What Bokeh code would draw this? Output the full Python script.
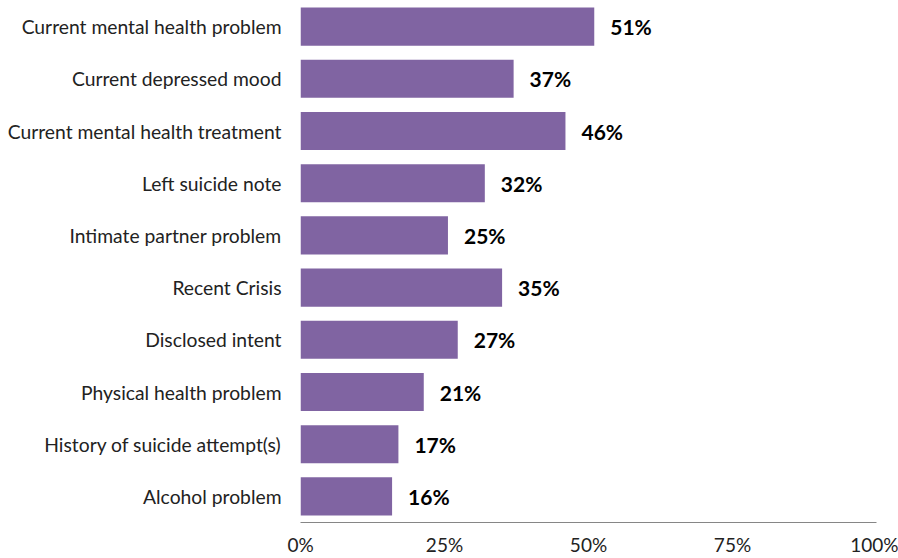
from bokeh.plotting import figure
from bokeh.models import Range1d, FixedTicker, ColumnDataSource, LabelSet
from bokeh.core.properties import value
from bokeh.embed import file_html
from bokeh.resources import INLINE

categories = ["Current mental health problem", "Current depressed mood",
              "Current mental health treatment", "Left suicide note",
              "Intimate partner problem", "Recent Crisis", "Disclosed intent",
              "Physical health problem", "History of suicide attempt(s)",
              "Alcohol problem"]
values = [51, 37, 46, 32, 25.6, 35, 27.3, 21.4, 17, 15.9]
value_labels = ["51%", "37%", "46%", "32%", "25%", "35%", "27%", "21%", "17%", "16%"]
x_ticks = [0, 25, 50, 75, 100]

FONT = "Lato"
pos = list(range(len(categories)))

src = ColumnDataSource(dict(y=pos, v=values, lab=value_labels))

p = figure(width=898, height=558, output_backend="svg", toolbar_location=None,
           x_range=Range1d(0, 100), y_range=Range1d(9.5, -0.5),
           min_border_left=300, min_border_right=22, min_border_top=0,
           min_border_bottom=36)
p.outline_line_color = None
p.grid.visible = False
p.background_fill_color = "white"

p.hbar(y="y", right="v", left=0, height=0.73, source=src,
       fill_color="#8064A2", line_color=None)

labels = LabelSet(x="v", y="y", text="lab", source=src, x_offset=16,
                  text_baseline="middle", text_font=value(FONT),
                  text_font_size=value("21px"), text_font_style="bold",
                  text_color=value("#000000"))
p.add_layout(labels)

p.xaxis.ticker = FixedTicker(ticks=x_ticks)
p.xaxis.major_label_overrides = {t: f"{t}%" for t in x_ticks}
p.xaxis.axis_line_color = "#868686"
p.xaxis.major_tick_line_color = None
p.xaxis.major_tick_out = 0
p.xaxis.major_tick_in = 0
p.xaxis.minor_tick_line_color = None
p.xaxis.major_label_standoff = 10
p.xaxis.major_label_text_font = FONT
p.xaxis.major_label_text_font_size = "19px"
p.xaxis.major_label_text_color = "#222222"

p.yaxis.ticker = FixedTicker(ticks=pos)
p.yaxis.major_label_overrides = {i: c for i, c in zip(pos, categories)}
p.yaxis.axis_line_color = None
p.yaxis.major_tick_line_color = None
p.yaxis.major_tick_out = 0
p.yaxis.major_tick_in = 0
p.yaxis.minor_tick_line_color = None
p.yaxis.major_label_standoff = 19
p.yaxis.major_label_text_font = FONT
p.yaxis.major_label_text_font_size = "19.3px"
p.yaxis.major_label_text_color = "#222222"

open("out.html", "w").write(file_html(p, INLINE))
